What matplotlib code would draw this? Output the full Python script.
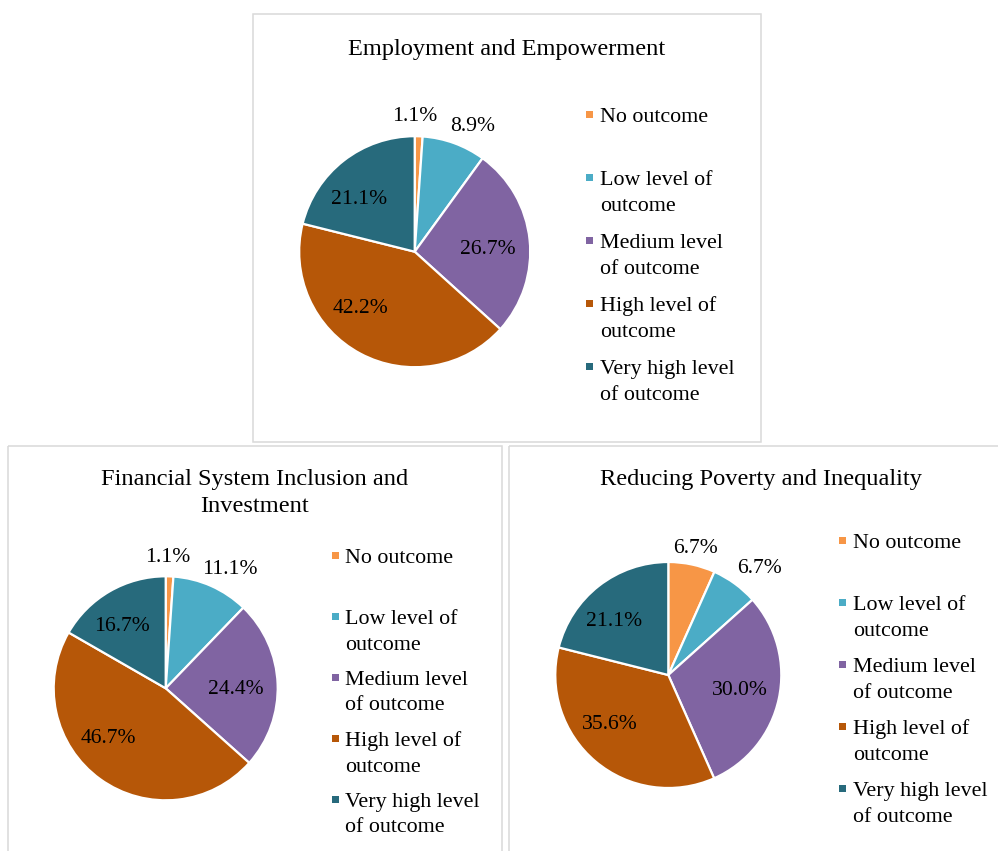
import matplotlib
matplotlib.use("Agg")
import matplotlib.pyplot as plt
from matplotlib.patches import Rectangle

plt.rcParams['font.family'] = ['Liberation Serif', 'DejaVu Serif']

# ---------------- data ----------------
categories = ["No outcome", "Low level of outcome", "Medium level of outcome",
              "High level of outcome", "Very high level of outcome"]
legend_lines = [["No outcome", ""],
                ["Low level of", "outcome"],
                ["Medium level", "of outcome"],
                ["High level of", "outcome"],
                ["Very high level", "of outcome"]]
titles = ["Employment and Empowerment",
          "Financial System Inclusion and\nInvestment",
          "Reducing Poverty and Inequality"]
employment = [1.1, 8.9, 26.7, 42.2, 21.1]
financial = [1.1, 11.1, 24.4, 46.7, 16.7]
poverty = [6.7, 6.7, 30.0, 35.6, 21.1]

colors = ["#F79646", "#4BACC6", "#8064A2", "#B65708", "#276A7C"]

# ---------------- layout (pixels) ----------------
W, H = 998, 851
fig = plt.figure(figsize=(W / 100, H / 100), dpi=100)

panels = [
    dict(values=employment, title=titles[0], box=(253, 14, 761, 441.5),
         center=(414.7, 251.7), r=115.5, title_xy=(506.5, 55),
         leg_marker_x=590, leg_text_x=600, leg_y0=114, leg_step=63, leg_line=26,
         label_xy=[(0.00, 1.18), (0.50, 1.09), (0.63, 0.03), (-0.47, -0.48), (-0.48, 0.46)]),
    dict(values=financial, title=titles[1], box=(8.5, 446, 502.5, 860),
         center=(165.7, 688.3), r=112, title_xy=(255, 485),
         leg_marker_x=335.7, leg_text_x=345.5, leg_y0=555, leg_step=61, leg_line=25.5,
         label_xy=[(0.02, 1.175), (0.57, 1.07), (0.63, 0.0), (-0.51, -0.44), (-0.39, 0.56)]),
    dict(values=poverty, title=titles[2], box=(509.5, 446, 1010, 860),
         center=(668.3, 675), r=113, title_xy=(761, 485.5),
         leg_marker_x=842.7, leg_text_x=853, leg_y0=540, leg_step=62, leg_line=26,
         label_xy=[(0.24, 1.13), (0.81, 0.95), (0.63, -0.13), (-0.52, -0.43), (-0.48, 0.48)]),
]

label_fs = 15.6
legend_fs = 15.8
title_fs = 17.6

for p in panels:
    cx, cy = p["center"]
    r = p["r"]
    pax = fig.add_axes([(cx - r) / W, 1 - (cy + r) / H, 2 * r / W, 2 * r / H])
    pax.pie(p["values"], colors=colors, startangle=90, counterclock=False,
            radius=1.0, wedgeprops=dict(edgecolor="white", linewidth=1.6))
    pax.set_xlim(-1, 1)
    pax.set_ylim(-1, 1)
    pax.set_aspect("equal")
    pax.axis("off")

ov = fig.add_axes([0, 0, 1, 1])
ov.set_xlim(0, W)
ov.set_ylim(H, 0)
ov.axis("off")
ov.patch.set_alpha(0)

for p in panels:
    x0, y0, x1, y1 = p["box"]
    ov.add_patch(Rectangle((x0, y0), x1 - x0, y1 - y0, fill=False,
                           edgecolor="#D9D9D9", linewidth=1.1, clip_on=False))
    # title
    tx, ty = p["title_xy"]
    tlines = p["title"].split("\n")
    for i, line in enumerate(tlines):
        ov.text(tx, ty + i * 26.5, line, ha="center", va="baseline",
                fontsize=title_fs, color="#000000")
    # data labels
    cx, cy = p["center"]
    r = p["r"]
    for v, (lx, ly) in zip(p["values"], p["label_xy"]):
        ov.text(cx + lx * r, cy - ly * r + 5.5, f"{v:.1f}%", ha="center",
                va="baseline", fontsize=label_fs, color="#000000")
    # legend
    for k, (col, lines) in enumerate(zip(colors, legend_lines)):
        yk = p["leg_y0"] + k * p["leg_step"]
        ms = 7
        ov.add_patch(Rectangle((p["leg_marker_x"] - ms / 2, yk - ms / 2), ms, ms,
                               facecolor=col, edgecolor="none"))
        for j, line in enumerate(lines):
            if line:
                ov.text(p["leg_text_x"], yk + j * p["leg_line"] + 8, line,
                        ha="left", va="baseline", fontsize=legend_fs, color="#000000")

fig.savefig("out.png", dpi=100, facecolor="white")
